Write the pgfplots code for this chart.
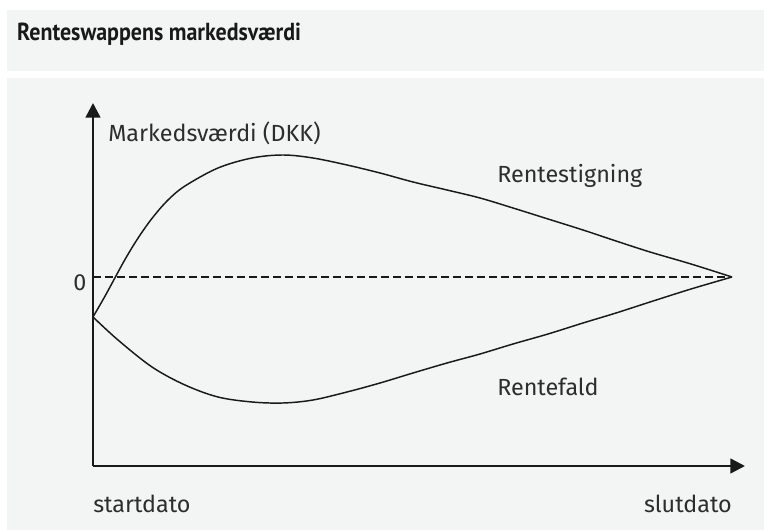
\documentclass[border=0pt]{standalone}
\usepackage{pgfplots}
\pgfplotsset{compat=1.18}
\usepackage{fontspec}
\setmainfont{Fira Sans}
\newfontfamily\titlefont{PT Sans}
\usetikzlibrary{arrows.meta}
\definecolor{bggray}{RGB}{243,244,244}
\definecolor{txt}{RGB}{45,45,45}
\definecolor{ln}{RGB}{25,25,25}
\newcommand{\px}{0.75pt}
\newcommand{\lbl}{\fontsize{17.5}{19}\selectfont}
\begin{document}
\begin{tikzpicture}
\useasboundingbox (0,0) rectangle ({764*\px},{-530*\px});
\fill[white] (0,0) rectangle ({764*\px},{-530*\px});
\fill[bggray] ({7*\px},{-10*\px}) rectangle ({764*\px},{-71*\px});
\fill[bggray] ({7*\px},{-78*\px}) rectangle ({764*\px},{-530*\px});
\node[anchor=base west, inner sep=0pt, text=black!90, font=\titlefont\fontsize{18.5}{20}\selectfont\bfseries, xscale=0.89, transform shape] at ({17*\px},{-41*\px}) {Renteswappens markedsværdi};
\begin{axis}[
  at={({93*\px},{-466*\px})}, anchor=south west,
  scale only axis, width={652*\px}, height={363*\px},
  xmin=0, xmax=652, ymin=-189, ymax=174,
  axis lines=left,
  axis line style={line width=1.9pt, ln, -{Triangle[length=11pt,width=11pt]}},
  xtick=\empty, ytick=\empty,
  clip=false,
]
\addplot[ln, line width=1.1pt, dash pattern=on 6pt off 3pt] coordinates {(0,0) (639,0)};
% Rentestigning
\addplot[ln, line width=1.1pt, smooth, tension=0.55] coordinates {
(0,-40) (11.7,-19.7) (21.7,-1.3) (31.7,17) (41.7,33.7) (51.7,48.7) (61.7,62) (75,77) (92,91) (125,109) (159,119) (190,122) (220,119) (254,112) (287,104) (320,95) (354,87) (387,79) (420,69) (455,58) (490,47) (523,36) (557,25) (598,13) (639,0)};
% Rentefald
\addplot[ln, line width=1.1pt, smooth, tension=0.55] coordinates {
(0,-40) (25,-63) (59,-90) (92,-108) (125,-120) (159,-125) (190,-126) (220,-123) (254,-115) (287,-106) (320,-96) (354,-86) (387,-77) (420,-67) (455,-57) (490,-46) (523,-36) (557,-25) (598,-12) (639,0)};
\node[anchor=base west, inner sep=0pt, text=txt, font=\lbl] at (axis cs:15,135) {Markedsværdi (DKK)};
\node[anchor=center, inner sep=0pt, text=txt, font=\lbl] at (axis cs:-13,-6) {0};
\node[anchor=base west, inner sep=0pt, text=txt, font=\lbl] at (axis cs:0,-236) {startdato};
\node[anchor=base east, inner sep=0pt, text=txt, font=\lbl] at (axis cs:639,-236) {slutdato};
\node[anchor=base west, inner sep=0pt, text=txt, font=\lbl] at (axis cs:404,94) {Rentestigning};
\node[anchor=base west, inner sep=0pt, text=txt, font=\lbl] at (axis cs:404,-119) {Rentefald};
\end{axis}
\end{tikzpicture}
\end{document}
